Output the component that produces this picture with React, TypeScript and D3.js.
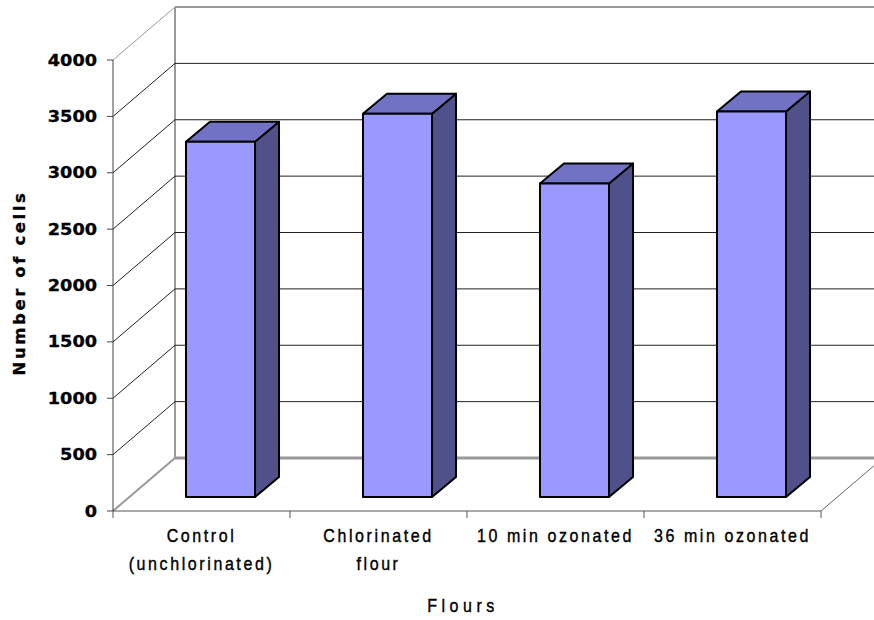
import React from "react";
import * as d3 from "d3";

// Flour treatments and counted cells
const categories = ["Control (unchlorinated)", "Chlorinated flour", "10 min ozonated", "36 min ozonated"];
const categoryLines = [["Control", "(unchlorinated)"], ["Chlorinated", "flour"], ["10 min ozonated"], ["36 min ozonated"]];
const cellCounts = [3150, 3400, 2780, 3420];
const yTicks = [0, 500, 1000, 1500, 2000, 2500, 3000, 3500, 4000];

const W = 874;
const H = 620;

// Front plane of the plot box
const X0 = 113;
const X1 = 821;
const Y0 = 511;
const Y1 = 60;
// Oblique offset from the front plane to the back wall
const DX = 62;
const DY = -53;
// Bar placement inside the depth
const BAR_DX = 19;
const BAR_DY = -14;
const BAR_DEPTH_DX = 24;
const BAR_DEPTH_DY = -20;
const BAR_FRAC = 0.39;

const FRONT = "#9999FF";
const TOP = "#7272C4";
const SIDE = "#50508A";

const LABEL_FONT = "Liberation Sans, Arial, sans-serif";
const AXIS_FONT = "DejaVu Sans, Verdana, sans-serif";

export default function App() {
  const y = d3.scaleLinear().domain([0, 4000]).range([Y0, Y1]);
  const x = d3.scaleBand<string>().domain(categories).range([X0, X1]).padding(0);
  const bw = x.bandwidth() * BAR_FRAC;
  const right = 900;

  const pt = (p: [number, number][]) => p.map((q) => q.join(",")).join(" ");

  return (
    <svg width={W} height={H} style={{ display: "block", position: "absolute", left: 0, top: 0, background: "#fff" }}>
      {/* back wall edges */}
      <line x1={X0 + DX} y1={y(4000) + DY} x2={X0 + DX} y2={Y0 + DY} stroke="#999" strokeWidth={2} />
      <line x1={X0 + DX} y1={y(4000) + DY} x2={right} y2={y(4000) + DY} stroke="#999" strokeWidth={2} />
      <line x1={X0 + DX} y1={Y0 + DY} x2={right} y2={Y0 + DY} stroke="#999" strokeWidth={3} />
      {/* gridlines on the back wall and the left wall */}
      {yTicks.filter((v) => v > 0 && v < 4000).map((v) => (
        <line key={"g" + v} x1={X0 + DX} y1={y(v) + DY} x2={right} y2={y(v) + DY} stroke="#222" strokeWidth={1} />
      ))}
      {yTicks.map((v) => (
        <line key={"d" + v} x1={X0} y1={y(v)} x2={X0 + DX} y2={y(v) + DY}
          stroke={v === 0 || v === 4000 ? "#999" : "#222"} strokeWidth={v === 0 ? 2 : 1} />
      ))}
      {/* floor edges */}
      <line x1={X1} y1={Y0} x2={X1 + DX} y2={Y0 + DY} stroke="#666" strokeWidth={1} />
      <line x1={X0} y1={Y0} x2={X1} y2={Y0} stroke="#555" strokeWidth={1} />
      {/* value axis */}
      <line x1={X0} y1={Y0} x2={X0} y2={Y1} stroke="#444" strokeWidth={1} />
      {yTicks.map((v) => (
        <g key={"t" + v}>
          <line x1={X0 - 6} y1={y(v)} x2={X0} y2={y(v)} stroke="#444" />
          <text transform={`translate(97,${y(v) + 5.5}) scale(1.18,1)`} textAnchor="end" fontFamily={AXIS_FONT}
            fontWeight="bold" fontSize={15} fill="#000" stroke="#000" strokeWidth={0.3}>{v}</text>
        </g>
      ))}
      {/* category ticks */}
      {d3.range(categories.length + 1).map((i) => {
        const xx = X0 + i * x.bandwidth();
        return <line key={"c" + i} x1={xx} y1={Y0} x2={xx} y2={Y0 + 7} stroke="#555" />;
      })}
      {/* bars */}
      {categories.map((c, i) => {
        const v = cellCounts[i];
        const l = (x(c) as number) + (x.bandwidth() - bw) / 2 + BAR_DX;
        const r = l + bw;
        const b = y(0) + BAR_DY;
        const t = y(v) + BAR_DY;
        return (
          <g key={c} stroke="#000" strokeWidth={2} strokeLinejoin="round">
            <polygon points={pt([[r, t], [r + BAR_DEPTH_DX, t + BAR_DEPTH_DY], [r + BAR_DEPTH_DX, b + BAR_DEPTH_DY], [r, b]])} fill={SIDE} />
            <polygon points={pt([[l, t], [l + BAR_DEPTH_DX, t + BAR_DEPTH_DY], [r + BAR_DEPTH_DX, t + BAR_DEPTH_DY], [r, t]])} fill={TOP} />
            <rect x={l} y={t} width={bw} height={b - t} fill={FRONT} />
          </g>
        );
      })}
      {/* category labels */}
      {categories.map((c, i) => (
        <text key={"l" + c} transform={`translate(${(x(c) as number) + x.bandwidth() / 2},542) scale(1,1.2)`}
          textAnchor="middle" fontFamily={LABEL_FONT} fontSize={16} letterSpacing={2.6}
          fill="#000" stroke="#000" strokeWidth={0.35}>
          {categoryLines[i].map((line, j) => (
            <tspan key={j} x={0} y={(j * 28) / 1.2}>{line}</tspan>
          ))}
        </text>
      ))}
      <text transform="translate(463,612) scale(1,1.2)" textAnchor="middle" fontFamily={LABEL_FONT} fontSize={16}
        letterSpacing={4.5} fill="#000" stroke="#000" strokeWidth={0.35}>Flours</text>
      <text transform="translate(25,283) rotate(-90)" textAnchor="middle" fontFamily={AXIS_FONT} fontWeight="bold"
        fontSize={16.5} letterSpacing={2.6} fill="#000" stroke="#000" strokeWidth={0.3}>Number of cells</text>
    </svg>
  );
}
